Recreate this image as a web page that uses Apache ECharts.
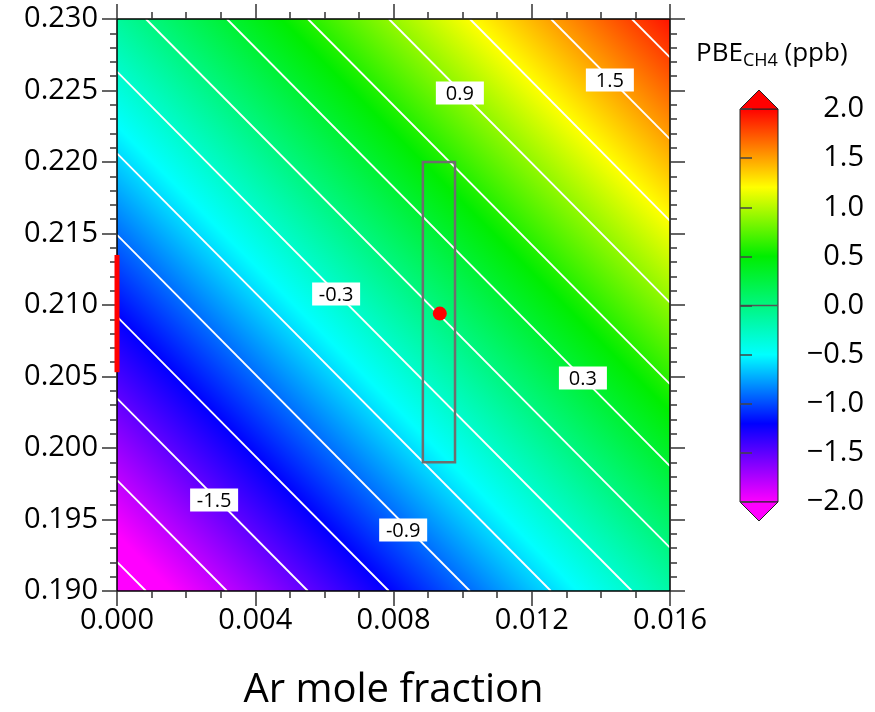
<!DOCTYPE html>
<html><head><meta charset="utf-8">
<script src="https://cdn.jsdelivr.net/npm/echarts@6/dist/echarts.min.js"></script>
<style>html,body{margin:0;padding:0;background:#fff;} #c{width:875px;height:712px;}</style>
</head><body><div id="c"></div>
<script>
// ---------------- data ----------------
const xRange = [0.000, 0.016];
const xInterval = 0.004;
const yRange = [0.190, 0.230];
const yInterval = 0.005;
const cbRange = [-2.0, 2.0];
const cbInterval = 0.5;

// field values read at the plot corners: rows y = 0.190, 0.230 ; cols x = 0.000, 0.016
const fieldX = [0.000, 0.016];
const fieldY = [0.190, 0.230];
const fieldV = [[-2.207, -0.159], [-0.108, 1.940]];

// colour scale (value, colour)
const scaleValues = [-2.0, -1.2, -0.5, 0.5, 1.2, 2.0];
const scaleColors = ['#ff00ff', '#0000ff', '#00ffff', '#00ee00', '#ffff00', '#ff0000'];

// white contour lines: level and [x1, y1, x2, y2] where they cross the frame
const contourLevels = [-2.1, -1.8, -1.5, -1.2, -0.9, -0.6, -0.3, 0.0, 0.3, 0.6, 0.9, 1.2, 1.5, 1.8];
const contourSegments = [
  [0, 0.19204, 0.000836, 0.190],
  [0, 0.19775, 0.003180, 0.190],
  [0, 0.20347, 0.005523, 0.190],
  [0, 0.20918, 0.007867, 0.190],
  [0, 0.21490, 0.010211, 0.190],
  [0, 0.22061, 0.012555, 0.190],
  [0, 0.22632, 0.014898, 0.190],
  [0.000836, 0.230, 0.016, 0.19303],
  [0.003180, 0.230, 0.016, 0.19874],
  [0.005523, 0.230, 0.016, 0.20446],
  [0.007867, 0.230, 0.016, 0.21017],
  [0.010211, 0.230, 0.016, 0.21589],
  [0.012555, 0.230, 0.016, 0.22160],
  [0.014898, 0.230, 0.016, 0.22731]
];

// contour labels
const contourLabelText = ['-1.5', '-0.9', '-0.3', '0.3', '0.9', '1.5'];
const contourLabelX = [0.00281, 0.00828, 0.00634, 0.01348, 0.00992, 0.01426];
const contourLabelY = [0.19636, 0.19427, 0.21077, 0.20490, 0.22483, 0.22573];

// grey box, air point, red bar on the y axis
const boxX = [0.00885, 0.00978];
const boxY = [0.199, 0.220];
const airPoint = [0.00934, 0.2094];
const redBarX = 0.000;
const redBarY = [0.2053, 0.2135];

// ---------------- chart ----------------
const FONT = "'Open Sans', 'Liberation Sans', sans-serif";
const chart = echarts.init(document.getElementById('c'), null, {renderer: 'canvas'});

const stops = scaleValues.map((v, i) => ({
  offset: (v - cbRange[0]) / (cbRange[1] - cbRange[0]), color: scaleColors[i]}));

const tickStyle = {color: '#333', width: 1.5};
const lineStyle = {color: '#000', width: 1.5};

function mainXAxis(pos, showLabel) {
  return {
    type: 'value', gridIndex: 0, position: pos, min: xRange[0], max: xRange[1], interval: xInterval,
    axisLine: {show: true, onZero: false, lineStyle: lineStyle},
    axisTick: {show: true, inside: false, length: 15, lineStyle: tickStyle},
    minorTick: {show: true, splitNumber: 4, length: 7, lineStyle: tickStyle},
    splitLine: {show: false}, minorSplitLine: {show: false},
    axisLabel: {show: showLabel, fontSize: 29, fontFamily: FONT, color: '#000', margin: 15,
      formatter: v => v.toFixed(3)},
    z: 10
  };
}
function mainYAxis(pos, showLabel) {
  return {
    type: 'value', gridIndex: 0, position: pos, min: yRange[0], max: yRange[1], interval: yInterval,
    axisLine: {show: true, onZero: false, lineStyle: lineStyle},
    axisTick: {show: true, inside: false, length: 15, lineStyle: tickStyle},
    minorTick: {show: true, splitNumber: 5, length: 7, lineStyle: tickStyle},
    splitLine: {show: false}, minorSplitLine: {show: false},
    axisLabel: {show: showLabel, fontSize: 29, fontFamily: FONT, color: '#000', margin: 19,
      formatter: v => v.toFixed(3)},
    z: 10
  };
}

const xBottom = mainXAxis('bottom', true);
xBottom.name = 'Ar mole fraction';
xBottom.nameLocation = 'middle';
xBottom.nameGap = 80;
xBottom.nameTextStyle = {fontSize: 40, fontFamily: FONT, color: '#000'};

const option = {
  backgroundColor: '#fff',
  animation: false,
  grid: [
    {left: 117, top: 19, width: 553, height: 572, outerBoundsMode: 'none', containLabel: false},
    {left: 740, top: 109, width: 38, height: 393, outerBoundsMode: 'none', containLabel: false}
  ],
  xAxis: [
    xBottom,
    mainXAxis('top', false),
    {type: 'value', gridIndex: 1, min: 0, max: 1, show: false}
  ],
  yAxis: [
    mainYAxis('left', true),
    mainYAxis('right', false),
    {
      type: 'value', gridIndex: 1, position: 'right', min: cbRange[0], max: cbRange[1], interval: cbInterval,
      axisLine: {show: false},
      axisTick: {show: true, length: 12, lineStyle: {color: '#444', width: 1.5}},
      splitLine: {show: false},
      axisLabel: {fontSize: 29, fontFamily: FONT, color: '#000', margin: 86, align: 'right',
        formatter: v => (v < 0 ? '\u2212' : '') + Math.abs(v).toFixed(1)},
      z: 10
    }
  ],
  graphic: [{
    type: 'text', left: 696, top: 41,
    style: {
      text: '{a|PBE}{b|CH4}{a| (ppb)}',
      rich: {
        a: {fontSize: 26, fontFamily: FONT, fill: '#000', lineHeight: 32, verticalAlign: 'middle'},
        b: {fontSize: 18, fontFamily: FONT, fill: '#000', lineHeight: 18, verticalAlign: 'bottom'}
      }
    }
  }],
  series: [
    { // colour field
      type: 'custom', xAxisIndex: 0, yAxisIndex: 0, z: 1, silent: true,
      data: [[fieldX[0], fieldY[0], fieldX[1], fieldY[1]]],
      renderItem: function (params, api) {
        const p00 = api.coord([fieldX[0], fieldY[0]]);
        const p10 = api.coord([fieldX[1], fieldY[0]]);
        const p01 = api.coord([fieldX[0], fieldY[1]]);
        const v00 = fieldV[0][0], v10 = fieldV[0][1], v01 = fieldV[1][0], v11 = fieldV[1][1];
        const gx = ((v10 - v00) + (v11 - v01)) / 2 / (p10[0] - p00[0]);
        const gy = ((v01 - v00) + (v11 - v10)) / 2 / (p01[1] - p00[1]);
        const g2 = gx * gx + gy * gy;
        const s = (cbRange[0] - v00) / g2, e = (cbRange[1] - v00) / g2;
        const grad = new echarts.graphic.LinearGradient(
          p00[0] + gx * s, p00[1] + gy * s, p00[0] + gx * e, p00[1] + gy * e, stops, true);
        return {
          type: 'rect',
          shape: {x: p01[0], y: p01[1], width: p10[0] - p00[0], height: p00[1] - p01[1]},
          style: {fill: grad}
        };
      }
    },
    { // contour lines
      type: 'custom', xAxisIndex: 0, yAxisIndex: 0, z: 2, silent: true,
      data: contourSegments.map((s, i) => s.concat([contourLevels[i]])),
      renderItem: function (params, api) {
        const a = api.coord([api.value(0), api.value(1)]);
        const b = api.coord([api.value(2), api.value(3)]);
        return {type: 'line', shape: {x1: a[0], y1: a[1], x2: b[0], y2: b[1]},
          style: {stroke: '#ffffff', lineWidth: 1.8}};
      }
    },
    { // contour labels
      type: 'custom', xAxisIndex: 0, yAxisIndex: 0, z: 3, silent: true,
      data: contourLabelText.map((t, i) => [contourLabelX[i], contourLabelY[i], i]),
      renderItem: function (params, api) {
        const p = api.coord([api.value(0), api.value(1)]);
        const t = contourLabelText[api.value(2)];
        return {type: 'group', children: [
          {type: 'rect', shape: {x: p[0] - 24, y: p[1] - 11.5, width: 48, height: 23}, style: {fill: '#fff'}},
          {type: 'text', x: p[0], y: p[1] + 1, style: {text: t, fontSize: 20, fontFamily: FONT, fill: '#000',
            align: 'center', verticalAlign: 'middle'}}
        ]};
      }
    },
    { // grey box
      type: 'custom', xAxisIndex: 0, yAxisIndex: 0, z: 4, silent: true,
      data: [[boxX[0], boxY[0], boxX[1], boxY[1]]],
      renderItem: function (params, api) {
        const a = api.coord([api.value(0), api.value(3)]);
        const b = api.coord([api.value(2), api.value(1)]);
        return {type: 'rect', shape: {x: a[0], y: a[1], width: b[0] - a[0], height: b[1] - a[1]},
          style: {fill: 'none', stroke: '#6e6e6e', lineWidth: 2.5}};
      }
    },
    { // air point
      type: 'scatter', xAxisIndex: 0, yAxisIndex: 0, z: 5, silent: true,
      symbol: 'circle', symbolSize: 14, itemStyle: {color: '#ff0000', opacity: 1},
      data: [airPoint]
    },
    { // red bar on y axis
      type: 'custom', xAxisIndex: 0, yAxisIndex: 0, z: 20, silent: true,
      data: [[redBarX, redBarY[0], redBarY[1]]],
      renderItem: function (params, api) {
        const a = api.coord([api.value(0), api.value(1)]);
        const b = api.coord([api.value(0), api.value(2)]);
        return {type: 'line', shape: {x1: a[0], y1: a[1], x2: b[0], y2: b[1]},
          style: {stroke: '#ff0000', lineWidth: 5}};
      }
    },
    { // colour bar
      type: 'custom', xAxisIndex: 2, yAxisIndex: 2, z: 5, silent: true,
      data: [[0, cbRange[0], 1, cbRange[1]]],
      renderItem: function (params, api) {
        const bl = api.coord([0, cbRange[0]]);
        const tr = api.coord([1, cbRange[1]]);
        const z0 = api.coord([0, 0]);
        const w = tr[0] - bl[0], cx = (bl[0] + tr[0]) / 2;
        const grad = new echarts.graphic.LinearGradient(0, 1, 0, 0, stops);
        return {type: 'group', children: [
          {type: 'rect', shape: {x: bl[0], y: tr[1], width: w, height: bl[1] - tr[1]},
            style: {fill: grad, stroke: '#222', lineWidth: 1}},
          {type: 'line', shape: {x1: bl[0], y1: z0[1], x2: tr[0], y2: z0[1]},
            style: {stroke: '#555', lineWidth: 1.5}},
          {type: 'polygon', shape: {points: [[bl[0], tr[1]], [tr[0], tr[1]], [cx, tr[1] - 19]]},
            style: {fill: scaleColors[scaleColors.length - 1], stroke: '#222', lineWidth: 1}},
          {type: 'polygon', shape: {points: [[bl[0], bl[1]], [tr[0], bl[1]], [cx, bl[1] + 19]]},
            style: {fill: scaleColors[0], stroke: '#222', lineWidth: 1}}
        ]};
      }
    }
  ]
};
chart.setOption(option);
</script></body></html>
